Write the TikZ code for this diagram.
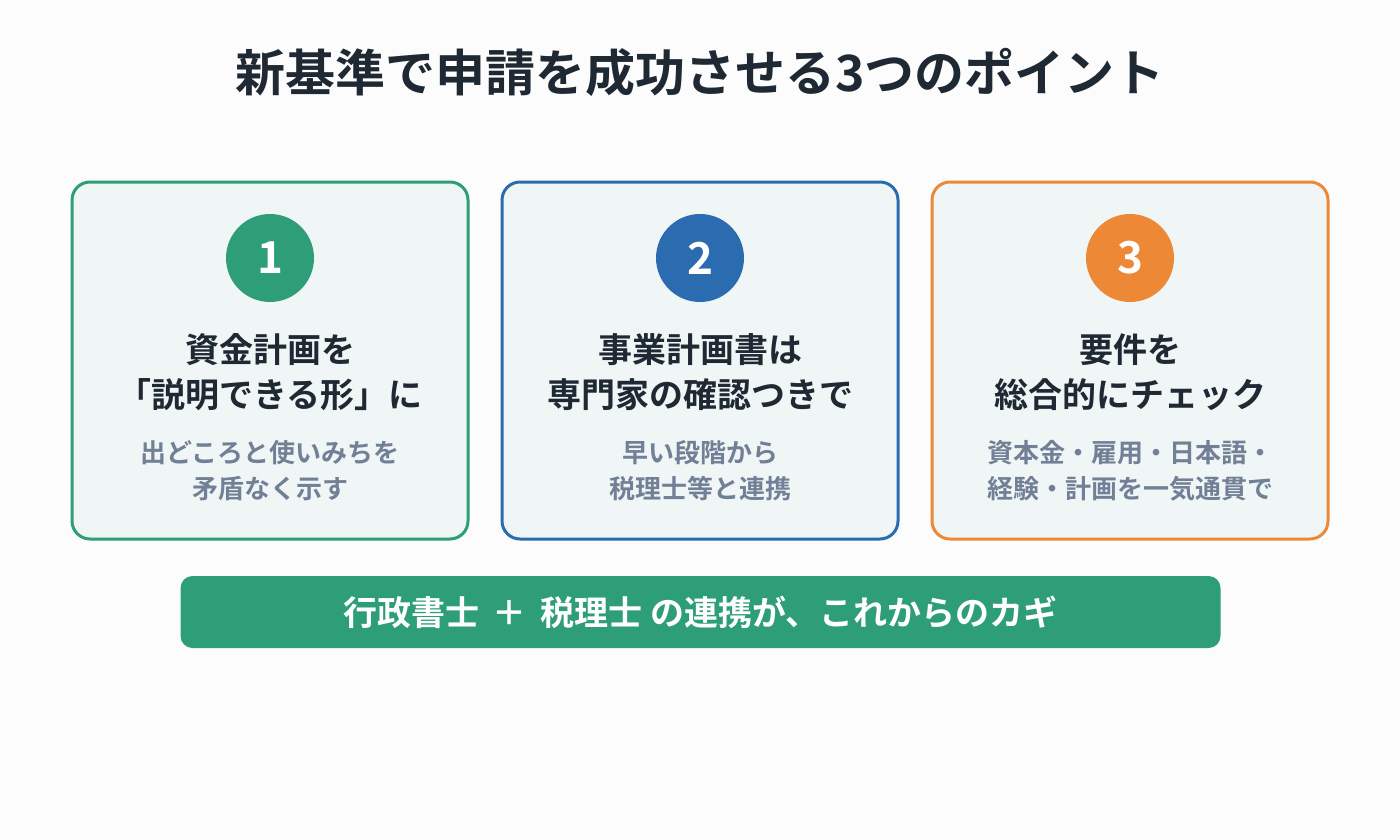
\documentclass[tikz,border=0pt]{standalone}
\usepackage{fontspec}
\setmainfont{Noto Sans CJK JP}[BoldFont={* Bold}]
\newfontfamily\jpb{Noto Sans CJK JP Bold}
\definecolor{gr}{HTML}{2E9E78}
\definecolor{bl}{HTML}{2B6CB0}
\definecolor{og}{HTML}{ED8936}
\definecolor{ink}{HTML}{1F2933}
\definecolor{sub}{HTML}{718096}
\definecolor{cardbg}{HTML}{F0F6F6}
\begin{document}
\begin{tikzpicture}[x=1pt,y=-1pt,
 card/.style={draw=#1,line width=3pt,rounded corners=18pt,fill=cardbg},
 num/.style={circle,fill=#1,minimum size=88pt,inner sep=0pt,text=white,font=\jpb\fontsize{44}{44}\selectfont},
 head/.style={align=center,text=ink,font=\jpb\fontsize{34}{45}\selectfont},
 subt/.style={align=center,text=sub,font=\jpb\fontsize{26}{36}\selectfont}]
\path[use as bounding box,fill=white!99!black] (0,0) rectangle (1400,840);
\node[text=ink,font=\jpb\fontsize{50}{50}\selectfont] (title) at (700,72) {新基準で申請を成功させる3つのポイント};
\foreach \x/\c/\n/\h/\s [count=\i] in {
 270/gr/1/{資金計画を\\「説明できる形」に}/{出どころと使いみちを\\矛盾なく示す},
 700/bl/2/{事業計画書は\\専門家の確認つきで}/{早い段階から\\税理士等と連携},
 1130/og/3/{要件を\\総合的にチェック}/{資本金・雇用・日本語・\\経験・計画を一気通貫で}}{
 \draw[card=\c] (\x-198,182) rectangle (\x+198,539);
 \node[num=\c] (n\i) at (\x,258) {\n};
 \node[head] (h\i) at (\x,372) {\h};
 \node[subt] (s\i) at (\x,471) {\s};
}
\node[fill=gr,rounded corners=12pt,minimum width=1040pt,minimum height=72pt,text=white,font=\jpb\fontsize{34}{34}\selectfont] (banner) at (700.5,612) {行政書士 \,＋\, 税理士 の連携が、これからのカギ};
\end{tikzpicture}
\end{document}
